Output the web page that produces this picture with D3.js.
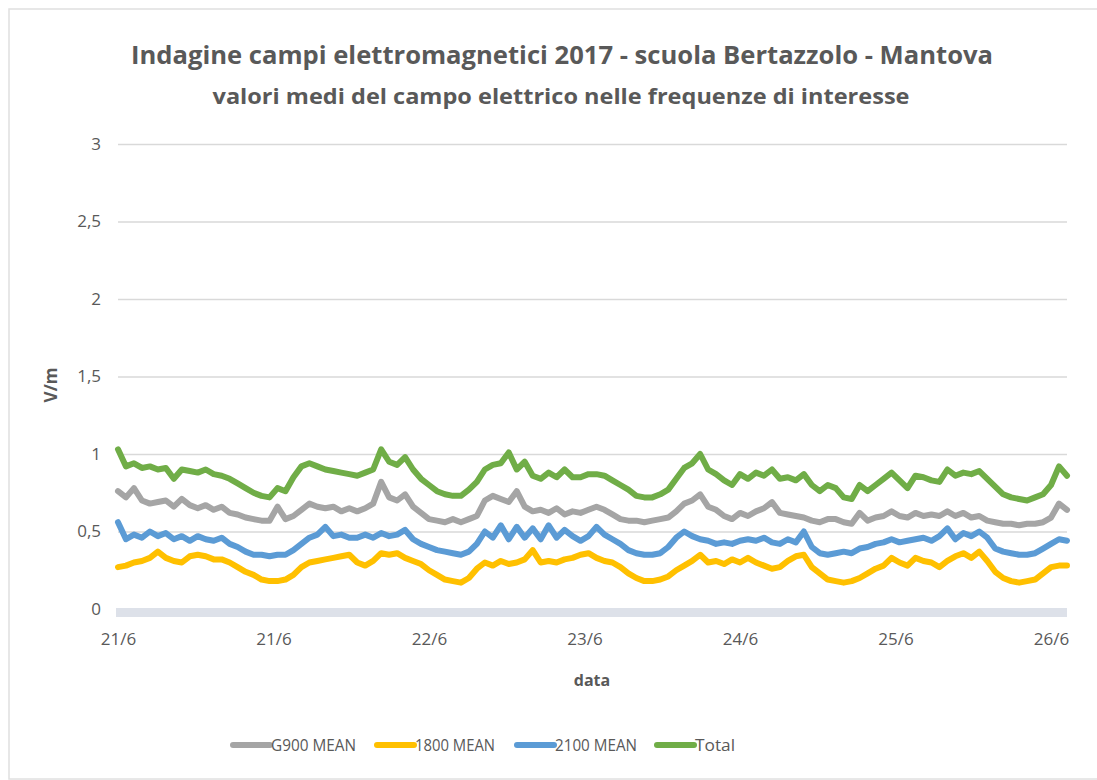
<!DOCTYPE html>
<html>
<head>
<meta charset="utf-8">
<script src="https://cdn.jsdelivr.net/npm/d3@7"></script>
<style>
  body { margin: 0; background: #fff; }
  text { font-family: "Open Sans", "Noto Sans", sans-serif; fill: #595959; }
</style>
</head>
<body>
<div id="chart"></div>
<script>
// hourly means, 21/6 -> 26/6
const g900 = [0.76,0.72,0.78,0.70,0.68,0.69,0.70,0.66,0.71,0.67,0.65,0.67,0.64,0.66,0.62,0.61,0.59,0.58,0.57,0.57,0.66,0.58,0.60,0.64,0.68,0.66,0.65,0.66,0.63,0.65,
  0.63,0.65,0.68,0.82,0.72,0.70,0.74,0.66,0.62,0.58,0.57,0.56,0.58,0.56,0.58,0.60,0.70,0.73,0.71,0.69,0.76,0.66,0.63,0.64,0.62,0.65,0.61,0.63,0.62,0.64,
  0.66,0.64,0.61,0.58,0.57,0.57,0.56,0.57,0.58,0.59,0.63,0.68,0.70,0.74,0.66,0.64,0.60,0.58,0.62,0.60,0.63,0.65,0.69,0.62,0.61,0.60,0.59,0.57,0.56,0.58,
  0.58,0.56,0.55,0.62,0.57,0.59,0.60,0.63,0.60,0.59,0.62,0.60,0.61,0.60,0.63,0.60,0.62,0.59,0.60,0.57,0.56,0.55,0.55,0.54,0.55,0.55,0.56,0.59,0.68,0.64]
const m1800 = [0.27,0.28,0.30,0.31,0.33,0.37,0.33,0.31,0.30,0.34,0.35,0.34,0.32,0.32,0.30,0.27,0.24,0.22,0.19,0.18,0.18,0.19,0.22,0.27,0.30,0.31,0.32,0.33,0.34,0.35,
  0.30,0.28,0.31,0.36,0.35,0.36,0.33,0.31,0.29,0.25,0.22,0.19,0.18,0.17,0.20,0.26,0.30,0.28,0.31,0.29,0.30,0.32,0.38,0.30,0.31,0.30,0.32,0.33,0.35,0.36,
  0.33,0.31,0.30,0.27,0.23,0.20,0.18,0.18,0.19,0.21,0.25,0.28,0.31,0.35,0.30,0.31,0.29,0.32,0.30,0.33,0.30,0.28,0.26,0.27,0.31,0.34,0.35,0.27,0.23,0.19,
  0.18,0.17,0.18,0.20,0.23,0.26,0.28,0.33,0.30,0.28,0.33,0.31,0.30,0.27,0.31,0.34,0.36,0.33,0.37,0.31,0.24,0.20,0.18,0.17,0.18,0.19,0.23,0.27,0.28,0.28]
const m2100 = [0.56,0.45,0.48,0.46,0.50,0.47,0.49,0.45,0.47,0.44,0.47,0.45,0.44,0.46,0.42,0.40,0.37,0.35,0.35,0.34,0.35,0.35,0.38,0.42,0.46,0.48,0.53,0.47,0.48,0.46,
  0.46,0.48,0.46,0.49,0.47,0.48,0.51,0.45,0.42,0.40,0.38,0.37,0.36,0.35,0.37,0.42,0.50,0.46,0.54,0.45,0.53,0.46,0.52,0.45,0.54,0.46,0.51,0.47,0.44,0.47,
  0.53,0.48,0.45,0.42,0.38,0.36,0.35,0.35,0.36,0.40,0.46,0.50,0.47,0.45,0.44,0.42,0.43,0.42,0.44,0.45,0.44,0.46,0.43,0.42,0.45,0.43,0.50,0.40,0.36,0.35,
  0.36,0.37,0.36,0.39,0.40,0.42,0.43,0.45,0.43,0.44,0.45,0.46,0.44,0.47,0.52,0.45,0.49,0.47,0.50,0.46,0.39,0.37,0.36,0.35,0.35,0.36,0.39,0.42,0.45,0.44]
const total = [1.03,0.92,0.94,0.91,0.92,0.90,0.91,0.84,0.90,0.89,0.88,0.90,0.87,0.86,0.84,0.81,0.78,0.75,0.73,0.72,0.78,0.76,0.85,0.92,0.94,0.92,0.90,0.89,0.88,0.87,
  0.86,0.88,0.90,1.03,0.95,0.93,0.98,0.90,0.84,0.80,0.76,0.74,0.73,0.73,0.77,0.82,0.90,0.93,0.94,1.01,0.90,0.95,0.86,0.84,0.88,0.85,0.90,0.85,0.85,0.87,
  0.87,0.86,0.83,0.80,0.77,0.73,0.72,0.72,0.74,0.77,0.84,0.91,0.94,1.00,0.90,0.87,0.83,0.80,0.87,0.84,0.88,0.86,0.90,0.84,0.85,0.83,0.87,0.80,0.76,0.80,
  0.78,0.72,0.71,0.80,0.76,0.80,0.84,0.88,0.83,0.78,0.86,0.85,0.83,0.82,0.90,0.86,0.88,0.87,0.89,0.84,0.79,0.74,0.72,0.71,0.70,0.72,0.74,0.80,0.92,0.86]

const seriesNames = ["G900 MEAN", "1800 MEAN", "2100 MEAN", "Total"]
const seriesData = [g900, m1800, m2100, total]
const seriesColors = ["#A5A5A5", "#FFC000", "#5B9BD5", "#70AD47"]

const xTickHours = [0, 19.5, 39, 58.5, 78, 97.5, 117]
const xTickLabels = ["21/6", "21/6", "22/6", "23/6", "24/6", "25/6", "26/6"]
const yTicks = [0, 0.5, 1, 1.5, 2, 2.5, 3]

const width = 1097, height = 780
const margin = {top: 144, right: 30, bottom: 171, left: 118}
const innerW = 949
const innerH = height - margin.top - margin.bottom

const svg = d3.select("#chart").append("svg")
  .attr("width", width)
  .attr("height", height)

// outer chart frame
svg.append("rect")
  .attr("x", 9).attr("y", 9)
  .attr("width", 1100).attr("height", 770)
  .attr("fill", "#fff")
  .attr("stroke", "#e0e0e0")
  .attr("stroke-width", 1.5)

const g = svg.append("g")
  .attr("transform", `translate(${margin.left},${margin.top})`)

const x = d3.scaleLinear()
  .domain([0, total.length - 1])
  .range([0, innerW])

const y = d3.scaleLinear()
  .domain([0, 3])
  .range([innerH, 0])

// gridlines
g.append("g")
  .call(d3.axisLeft(y).tickValues(yTicks.slice(1)).tickSize(-innerW).tickFormat(""))
  .call(a => a.select(".domain").remove())
  .call(a => a.selectAll("line").attr("stroke", "#d9d9d9").attr("stroke-width", 1.3))

// y labels
g.append("g")
  .call(d3.axisLeft(y).tickValues(yTicks).tickSize(0).tickPadding(17)
    .tickFormat(d => String(d).replace(".", ",")))
  .call(a => a.select(".domain").remove())
  .call(a => a.selectAll("text").attr("font-size", 17).style("fill", "#595959")
    .attr("font-family", "'Open Sans', sans-serif"))

// x baseline band
g.append("rect")
  .attr("x", x(0) - 2).attr("y", y(0) - 1)
  .attr("width", innerW + 2).attr("height", 9)
  .attr("fill", "#dde1e9")

// x labels
g.append("g")
  .attr("transform", `translate(0,${innerH})`)
  .call(d3.axisBottom(x).tickValues(xTickHours).tickSize(0).tickPadding(24)
    .tickFormat((d, i) => xTickLabels[i]))
  .call(a => a.select(".domain").remove())
  .call(a => a.selectAll("text").attr("font-size", 17).style("fill", "#595959")
    .attr("font-family", "'Open Sans', sans-serif"))

const line = d3.line()
  .x((d, i) => x(i))
  .y(d => y(d))

seriesData.forEach((data, k) => {
  g.append("path")
    .datum(data)
    .attr("fill", "none")
    .attr("stroke", seriesColors[k])
    .attr("stroke-width", 6)
    .attr("stroke-linejoin", "round")
    .attr("stroke-linecap", "round")
    .attr("d", line)
})

// titles
svg.append("text")
  .attr("x", 562).attr("y", 64)
  .attr("text-anchor", "middle")
  .attr("font-size", 25).attr("font-weight", "bold")
  .attr("textLength", 862).attr("lengthAdjust", "spacingAndGlyphs")
  .text("Indagine campi elettromagnetici 2017 - scuola Bertazzolo - Mantova")

svg.append("text")
  .attr("x", 561).attr("y", 104)
  .attr("text-anchor", "middle")
  .attr("font-size", 21).attr("font-weight", "bold")
  .attr("textLength", 697).attr("lengthAdjust", "spacingAndGlyphs")
  .text("valori medi del campo elettrico nelle frequenze di interesse")

// axis titles
svg.append("text")
  .attr("transform", "translate(57,385) rotate(-90)")
  .attr("text-anchor", "middle")
  .attr("font-size", 17).attr("font-weight", "bold")
  .text("V/m")

svg.append("text")
  .attr("x", 592).attr("y", 686)
  .attr("text-anchor", "middle")
  .attr("font-size", 16).attr("font-weight", "bold")
  .text("data")

// legend
const legendX = [233, 377, 517, 657]
const legendW = [85, 80, 82, 40]
const legend = svg.append("g")
seriesNames.forEach((name, k) => {
  legend.append("line")
    .attr("x1", legendX[k]).attr("x2", legendX[k] + 37)
    .attr("y1", 745).attr("y2", 745)
    .attr("stroke", seriesColors[k])
    .attr("stroke-width", 6)
    .attr("stroke-linecap", "round")
  legend.append("text")
    .attr("x", legendX[k] + 38).attr("y", 751)
    .attr("font-size", 17)
    .attr("textLength", legendW[k]).attr("lengthAdjust", "spacingAndGlyphs")
    .text(name)
})
</script>
</body>
</html>
